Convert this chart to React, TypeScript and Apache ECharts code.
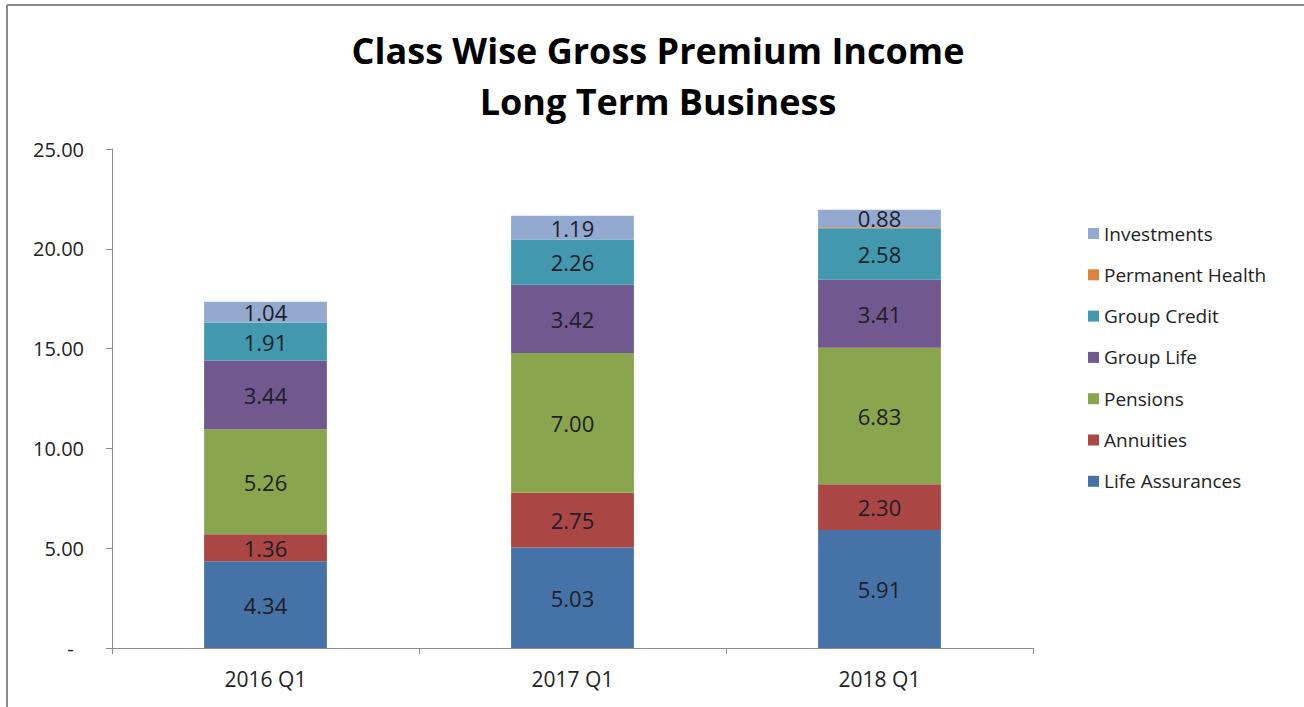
import React, { useEffect, useRef } from "react";
import * as echarts from "echarts";

const categories = ["2016 Q1", "2017 Q1", "2018 Q1"];
const lifeAssurances = [4.34, 5.03, 5.91];
const annuities = [1.36, 2.75, 2.3];
const pensions = [5.26, 7.0, 6.83];
const groupLife = [3.44, 3.42, 3.41];
const groupCredit = [1.91, 2.26, 2.58];
const permanentHealth = [0, 0, 0.05];
const investments = [1.04, 1.19, 0.88];
const seriesNames = [
  "Life Assurances",
  "Annuities",
  "Pensions",
  "Group Life",
  "Group Credit",
  "Permanent Health",
  "Investments",
];
const seriesColors = ["#4572A7", "#AA4643", "#89A54E", "#71588F", "#4198AF", "#DB843D", "#93A9CF"];
const titleLines = ["Class Wise Gross Premium Income", "Long Term Business"];

const FONT = "'Open Sans', 'Noto Sans', sans-serif";

export default function App() {
  const ref = useRef<HTMLDivElement>(null);
  useEffect(() => {
    document.body.style.margin = "0";
    const chart = echarts.init(ref.current!, null, { renderer: "svg" });
    const allData = [lifeAssurances, annuities, pensions, groupLife, groupCredit, permanentHealth, investments];
    const series = allData.map((d, i) => ({
      name: seriesNames[i],
      type: "bar",
      stack: "total",
      barWidth: "40%",
      data: d,
      itemStyle: { color: seriesColors[i] },
      label: {
        show: seriesNames[i] !== "Permanent Health",
        position: "inside",
        color: "#1e1e28",
        fontFamily: FONT,
        fontSize: 22,
        formatter: (p: any) => Number(p.value).toFixed(2),
      },
    }));
    chart.setOption({
      animation: false,
      backgroundColor: "#ffffff",
      title: {
        text: titleLines.join("\n"),
        left: 653,
        top: 20,
        textAlign: "center",
        textStyle: {
          fontFamily: FONT,
          fontWeight: "bold",
          fontSize: 36,
          lineHeight: 51,
          color: "#000000",
        },
      },
      legend: {
        orient: "vertical",
        left: 1088,
        top: 224,
        padding: 0,
        itemGap: 22.3,
        itemWidth: 11,
        itemHeight: 11,
        icon: "rect",
        data: [...seriesNames].reverse(),
        textStyle: { fontFamily: FONT, fontSize: 19, lineHeight: 19, color: "#222222" },
      },
      grid: { left: 112, right: 271, top: 149, bottom: 59, containLabel: false },
      xAxis: {
        type: "category",
        data: categories,
        axisLine: { lineStyle: { color: "#8c8c8c", width: 1 } },
        axisTick: { show: true, length: 6, lineStyle: { color: "#8c8c8c" } },
        axisLabel: { fontFamily: FONT, fontSize: 21, color: "#222222", margin: 20 },
      },
      yAxis: {
        type: "value",
        min: 0,
        max: 25,
        interval: 5,
        axisLine: { show: true, lineStyle: { color: "#8c8c8c", width: 1 } },
        axisTick: { show: true, length: 6, lineStyle: { color: "#8c8c8c" } },
        splitLine: { show: false },
        axisLabel: {
          fontFamily: FONT,
          fontSize: 20,
          color: "#222222",
          margin: 28,
          formatter: (v: number) => (v === 0 ? "-  " : v.toFixed(2)),
        },
      },
      graphic: [
        { type: "line", shape: { x1: 7, y1: 5, x2: 1304, y2: 5 }, style: { stroke: "#8a8a8a", lineWidth: 2 } },
        { type: "line", shape: { x1: 7, y1: 5, x2: 7, y2: 707 }, style: { stroke: "#8a8a8a", lineWidth: 2 } },
      ],
      series,
    });
    return () => chart.dispose();
  }, []);
  return <div ref={ref} style={{ width: 1304, height: 707 }} />;
}
